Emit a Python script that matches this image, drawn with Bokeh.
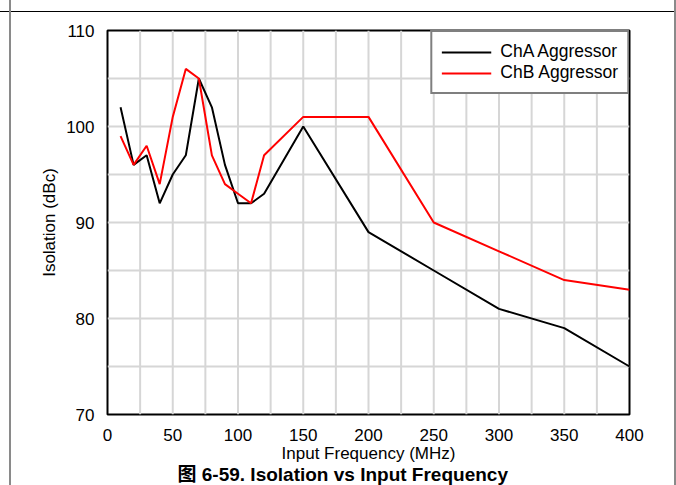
from bokeh.plotting import figure
from bokeh.models import (Range1d, SingleIntervalTicker, Legend, LegendItem,
                          Title, InlineStyleSheet)
from bokeh.embed import file_html
from bokeh.resources import INLINE

# Data
freq_a = [10, 20, 30, 40, 50, 60, 70, 80, 90, 100, 110, 120, 150, 200, 250, 300, 350, 400]
cha_aggressor = [102, 96, 97, 92, 95, 97, 105, 102, 96, 92, 92, 93, 100, 89, 85, 81, 79, 75]
freq_b = [10, 20, 30, 40, 50, 60, 70, 80, 90, 100, 110, 120, 150, 200, 250, 300, 350, 400]
chb_aggressor = [99, 96, 98, 94, 101, 106, 105, 97, 94, 93, 92, 97, 101, 101, 90, 87, 84, 83]
series_names = ["ChA Aggressor", "ChB Aggressor"]
x_title = "Input Frequency (MHz)"
y_title = "Isolation (dBc)"
caption = "图 6-59. Isolation vs Input Frequency"

FONT = "Liberation Sans"
W, H = 676, 485
X_MIN, X_MAX, Y_MIN, Y_MAX = 0, 400, 70, 110

p = figure(width=W, height=H, output_backend="svg", toolbar_location=None,
           x_range=Range1d(X_MIN, X_MAX), y_range=Range1d(Y_MIN, Y_MAX))
p.min_border_left = 107
p.min_border_right = 47
p.min_border_top = 30
p.min_border_bottom = 71
p.outline_line_color = "black"
p.outline_line_width = 2
p.background_fill_color = "white"
p.border_fill_color = "white"

p.xaxis.ticker = SingleIntervalTicker(interval=50)
p.yaxis.ticker = SingleIntervalTicker(interval=10)
p.xgrid.visible = False
p.ygrid.visible = False

# light grid (every 25 MHz and every 5 dB), drawn beneath the data lines
GRID = "#d6d6d6"
gx = list(range(X_MIN + 25, X_MAX, 25))
gy = list(range(Y_MIN + 5, Y_MAX, 5))
p.segment(x0=gx, y0=[Y_MIN] * len(gx), x1=gx, y1=[Y_MAX] * len(gx),
          line_color=GRID, line_width=2)
p.segment(x0=[X_MIN] * len(gy), y0=gy, x1=[X_MAX] * len(gy), y1=gy,
          line_color=GRID, line_width=2)

for ax in (p.xaxis, p.yaxis):
    ax.axis_line_color = None
    ax.major_tick_line_color = None
    ax.minor_tick_line_color = None
    ax.major_label_text_font = FONT
    ax.major_label_text_font_size = "17px"
    ax.major_label_text_color = "black"
    ax.axis_label_text_font = FONT
    ax.axis_label_text_font_size = "17px"
    ax.axis_label_text_font_style = "normal"
    ax.axis_label_text_color = "black"

p.xaxis.axis_label = x_title
p.yaxis.axis_label = y_title
p.xaxis.major_label_standoff = 8
p.xaxis.axis_label_standoff = 0
p.yaxis.major_label_standoff = 7
p.yaxis.axis_label_standoff = 4

ra = p.line(freq_a, cha_aggressor, line_color="black", line_width=2)
rb = p.line(freq_b, chb_aggressor, line_color="#ff0000", line_width=2)

legend = Legend(items=[LegendItem(label=series_names[0], renderers=[ra]),
                       LegendItem(label=series_names[1], renderers=[rb])],
                location="top_right")
legend.margin = 0
legend.padding = 9
legend.spacing = 0
legend.border_line_color = "black"
legend.border_line_width = 2
legend.background_fill_color = "white"
legend.background_fill_alpha = 1
legend.label_text_font = FONT
legend.label_text_font_size = "17.5px"
legend.label_text_color = "black"
legend.glyph_width = 50
legend.glyph_height = 20
legend.label_height = 20
legend.label_standoff = 9
p.add_layout(legend)

cap = Title(text=caption, align="left", text_font=FONT + ", Noto Sans CJK SC",
            text_font_size="19px", text_font_style="bold", text_color="black",
            standoff=-8, offset=70)
p.add_layout(cap, "below")

# thin document-page frame lines around the figure (decoration only)
p.stylesheets = [InlineStyleSheet(css="""
:host { position: relative; }
:host::before { content: ""; position: absolute; left: 0; top: 11px; width: 675px;
  height: 0; border-top: 1px solid #000; pointer-events: none; z-index: 5; }
:host::after { content: ""; position: absolute; left: 9px; top: 0; width: 667px;
  height: 485px; box-sizing: border-box; border-left: 2px solid #8a8a8a;
  border-right: 2px solid #8a8a8a; pointer-events: none; z-index: 5; }
""")]

open("out.html", "w").write(file_html(p, INLINE))
